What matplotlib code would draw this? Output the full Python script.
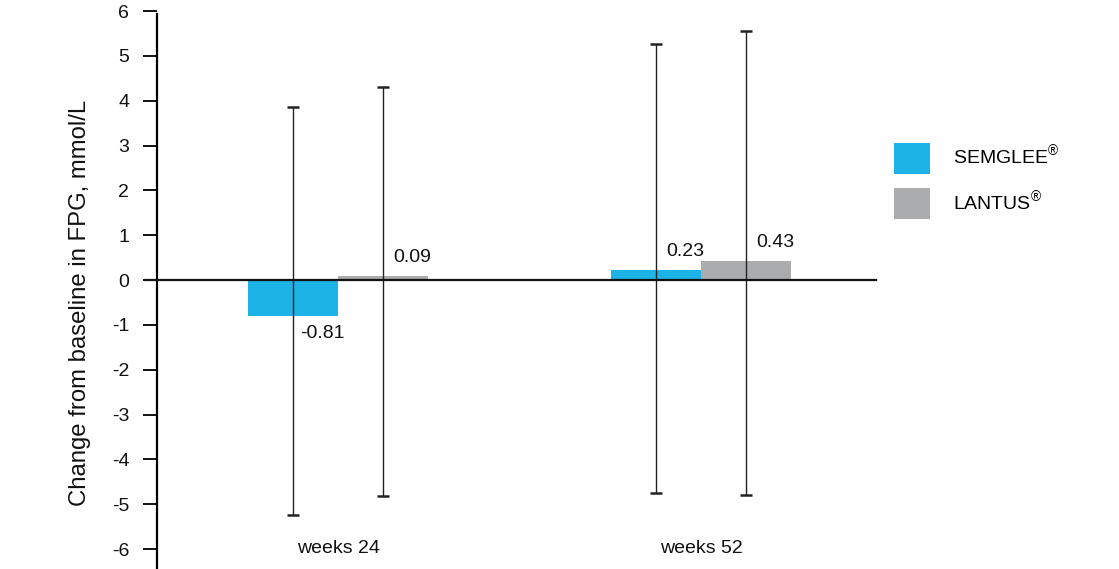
import matplotlib
matplotlib.use("Agg")
import matplotlib.pyplot as plt
import numpy as np

plt.rcParams['font.family'] = ['Liberation Sans', 'DejaVu Sans']
plt.rcParams['mathtext.fontset'] = 'custom'
plt.rcParams['mathtext.rm'] = 'Liberation Sans'

categories = ["weeks 24", "weeks 52"]
series_names = ["SEMGLEE$^{®}$", "LANTUS$^{®}$"]
semglee = [-0.81, 0.23]
lantus = [0.09, 0.43]
semglee_lo = [-5.25, -4.75]
semglee_hi = [3.87, 5.27]
lantus_lo = [-4.82, -4.80]
lantus_hi = [4.30, 5.55]
value_labels_s = ["-0.81", "0.23"]
value_labels_l = ["0.09", "0.43"]
yticks = [-6, -5, -4, -3, -2, -1, 0, 1, 2, 3, 4, 5, 6]

blue = "#1DB3E6"
gray = "#ABACAE"

W, H = 1119, 569
fig = plt.figure(figsize=(W / 100, H / 100), dpi=100)
ax_left, ax_right = 157 / W, 876 / W
ax_top_px, ax_bot_px = 9, 569
ax = fig.add_axes([ax_left, 1 - ax_bot_px / H, ax_right - ax_left, (ax_bot_px - ax_top_px) / H])

FS = 14
x = np.arange(len(categories))
bw = 0.248
vals = [semglee, lantus]
los = [semglee_lo, lantus_lo]
his = [semglee_hi, lantus_hi]
cols = [blue, gray]
offs = [-bw / 2, bw / 2]
labs = [value_labels_s, value_labels_l]
for k in range(2):
    v = np.array(vals[k])
    ax.bar(x + offs[k], v, width=bw, color=cols[k], label=series_names[k], zorder=2)
    yerr = np.vstack([v - np.array(los[k]), np.array(his[k]) - v])
    ax.errorbar(x + offs[k], v, yerr=yerr, fmt='none', ecolor='#222222',
                elinewidth=1.0, capsize=4.0, capthick=1.8, zorder=3)
    for i in range(len(x)):
        dy = 18 if v[i] >= 0 else -17
        ax.annotate(labs[k][i], (x[i] + offs[k], v[i]), xytext=(29, dy),
                    textcoords='offset pixels', ha='center', va='center',
                    fontsize=FS, color='#111111', zorder=4)

ax.set_xlim(-0.499, 1.482)
ax.set_ylim(-6.446, 6.045)
ax.set_yticks(yticks)
ax.set_yticklabels([str(t) for t in yticks])
ax.tick_params(axis='y', length=10, width=1.4, pad=10, labelsize=FS, colors='#111111')
ax.set_xticks([])
for s in ['top', 'right', 'bottom']:
    ax.spines[s].set_visible(False)
ax.spines['left'].set_linewidth(1.6)
ax.spines['left'].set_bounds(-6.446, 5.93)

# zero baseline
ax.plot([-0.017, 1.0], [0, 0], transform=ax.get_yaxis_transform(), color='#111111',
        lw=1.6, clip_on=False, zorder=5)

for i, c in enumerate(categories):
    ax.text(x[i], -5.98, c, ha='center', va='center', fontsize=FS, color='#111111')

fig.text(80 / W, 1 - 303 / H, "Change from baseline in FPG, mmol/L", rotation=90,
         ha='center', va='center', fontsize=17.2, color='#111111')

leg = fig.legend(loc='upper left', bbox_to_anchor=(886 / W, 1 - 135 / H), frameon=False,
                 fontsize=FS, handlelength=1.87, handleheight=2.08, labelspacing=0.75,
                 handletextpad=1.2, borderaxespad=0)

fig.savefig("out.png", dpi=100)
